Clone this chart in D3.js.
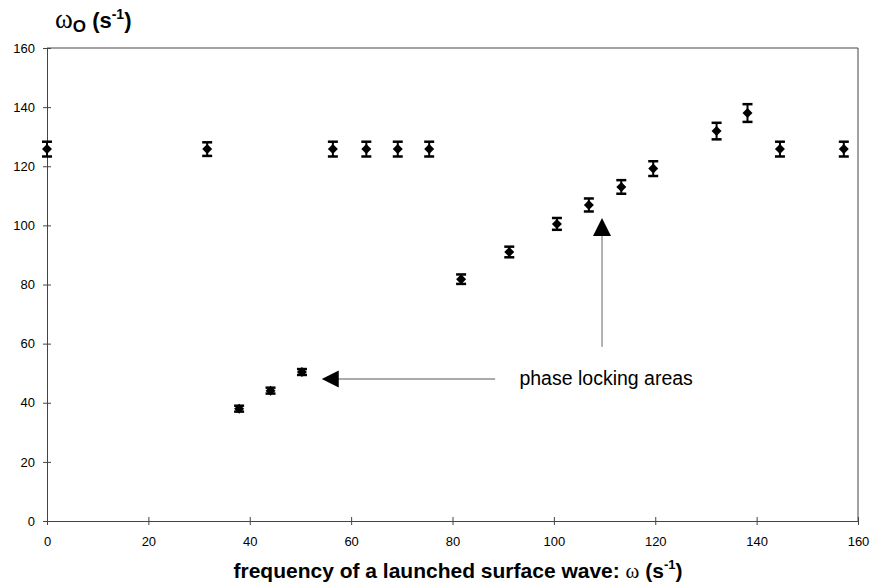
<!DOCTYPE html>
<html>
<head>
  <meta charset="utf-8">
  <script src="https://d3js.org/d3.v7.min.js"></script>
  <style type="text/css">
body{ margin:0; background:#fff; }
svg{ display:block; }
.tick text{ font-family:"Liberation Sans", Arial, sans-serif; font-size:13px; fill:#000; }
  </style>
</head>
<body>
<script type="text/javascript">
// launched frequency omega (s^-1)
var omega = [0, 31.6, 37.9, 44.1, 50.3, 56.4, 63.0, 69.2, 75.4, 81.7, 91.2, 100.6, 106.9, 113.3, 119.6, 132.1, 138.2, 144.6, 157.2];
// measured omega_0 (s^-1)
var omega0 = [125.8, 125.8, 38.0, 44.1, 50.4, 125.8, 125.8, 125.8, 125.8, 81.8, 91.0, 100.5, 106.9, 113.0, 119.2, 131.9, 138.0, 125.8, 125.8];
// error bar half heights
var errs = [2.5, 2.3, 1.0, 1.0, 1.0, 2.5, 2.5, 2.5, 2.5, 1.6, 1.8, 2.0, 2.2, 2.3, 2.5, 2.8, 3.0, 2.5, 2.5];
var xTicks = [0, 20, 40, 60, 80, 100, 120, 140, 160];
var yTicks = [0, 20, 40, 60, 80, 100, 120, 140, 160];

// annotation: arrows pointing at the two locking areas
var arrowH = {x1: 88.4, x2: 54.2, y: 48.0};
var arrowV = {x: 109.5, y1: 58.9, y2: 102.5};
var noteText = "phase locking areas";
var noteAt = {x: 93.2, y: 48.3};

var W = 873, H = 584;
var margin = {top: 48, right: 15, bottom: 63, left: 47};
var font = "'Liberation Sans', Arial, sans-serif";

var svg = d3.select("body").append("svg")
  .attr("width", W)
  .attr("height", H);

var x = d3.scaleLinear().domain([0, 160]).range([margin.left, W - margin.right]);
var y = d3.scaleLinear().domain([0, 160]).range([H - margin.bottom, margin.top]);

// frame (top and right)
svg.append("line")
  .attr("x1", x(0)).attr("x2", x(160))
  .attr("y1", y(160)).attr("y2", y(160))
  .attr("stroke", "#444").attr("stroke-width", 1);
svg.append("line")
  .attr("x1", x(160)).attr("x2", x(160))
  .attr("y1", y(160)).attr("y2", y(0))
  .attr("stroke", "#444").attr("stroke-width", 1);

var xAxis = d3.axisBottom(x).tickValues(xTicks).tickSizeInner(4).tickSizeOuter(0).tickPadding(12);
var yAxis = d3.axisLeft(y).tickValues(yTicks).tickSizeInner(4).tickSizeOuter(0).tickPadding(8);

var gx = svg.append("g")
  .attr("transform", "translate(0," + y(0) + ")")
  .call(xAxis);
var gy = svg.append("g")
  .attr("transform", "translate(" + x(0) + ",0)")
  .call(yAxis);

[gx, gy].forEach(function(g){
  g.select(".domain").attr("stroke", "#444");
  g.selectAll(".tick line").attr("stroke", "#444");
});
// ticks cross the axis lines
gx.selectAll(".tick line").attr("y1", -4).attr("y2", 4);
gy.selectAll(".tick line").attr("x1", -4).attr("x2", 4);
gx.selectAll(".tick text").attr("dy", "0.71em");

// error bars
var data = omega.map(function(d, i){ return {x: d, y: omega0[i], e: errs[i]}; });

var eb = svg.append("g").selectAll("g")
  .data(data)
  .enter().append("g");

eb.append("line")
  .attr("x1", function(d){ return x(d.x); })
  .attr("x2", function(d){ return x(d.x); })
  .attr("y1", function(d){ return y(d.y + d.e); })
  .attr("y2", function(d){ return y(d.y - d.e); })
  .attr("stroke", "#000").attr("stroke-width", 2);
eb.selectAll(".cap")
  .data(function(d){ return [d.y + d.e, d.y - d.e].map(function(v){ return {x: d.x, v: v}; }); })
  .enter().append("line")
  .attr("class", "cap")
  .attr("x1", function(d){ return x(d.x) - 5; })
  .attr("x2", function(d){ return x(d.x) + 5; })
  .attr("y1", function(d){ return y(d.v); })
  .attr("y2", function(d){ return y(d.v); })
  .attr("stroke", "#000").attr("stroke-width", 2.5);

// diamond markers
svg.append("g").selectAll("path")
  .data(data)
  .enter().append("path")
  .attr("d", d3.symbol(d3.symbolSquare, 50))
  .attr("transform", function(d){ return "translate(" + x(d.x) + "," + y(d.y) + ") rotate(45)"; })
  .attr("fill", "#000");

// horizontal arrow
svg.append("line")
  .attr("x1", x(arrowH.x1)).attr("x2", x(arrowH.x2) + 14)
  .attr("y1", y(arrowH.y)).attr("y2", y(arrowH.y))
  .attr("stroke", "#aaa").attr("stroke-width", 2);
svg.append("path")
  .attr("d", d3.line()([[x(arrowH.x2), y(arrowH.y)], [x(arrowH.x2) + 17, y(arrowH.y) - 8.5], [x(arrowH.x2) + 17, y(arrowH.y) + 8.5]]) + "Z")
  .attr("fill", "#000");

// vertical arrow
svg.append("line")
  .attr("x1", x(arrowV.x)).attr("x2", x(arrowV.x))
  .attr("y1", y(arrowV.y1)).attr("y2", y(arrowV.y2) + 14)
  .attr("stroke", "#666").attr("stroke-width", 1);
svg.append("path")
  .attr("d", d3.line()([[x(arrowV.x), y(arrowV.y2)], [x(arrowV.x) - 9, y(arrowV.y2) + 18], [x(arrowV.x) + 9, y(arrowV.y2) + 18]]) + "Z")
  .attr("fill", "#000");

svg.append("text")
  .attr("x", x(noteAt.x))
  .attr("y", y(noteAt.y))
  .attr("dy", "0.35em")
  .style("font-family", font)
  .style("font-size", "19.5px")
  .text(noteText);

// y axis title
var yt = svg.append("text")
  .attr("x", 55)
  .attr("y", 28)
  .style("font-family", font)
  .style("font-size", "22px")
  .style("font-weight", "bold");
yt.append("tspan").style("font-family", "'Liberation Serif', serif").style("font-weight", "normal").style("font-size", "27px").text("\u03c9");
yt.append("tspan").attr("dy", 4).style("font-size", "17px").text("O");
yt.append("tspan").attr("dy", -4).text(" (s");
yt.append("tspan").attr("dy", -9).style("font-size", "14px").text("-1");
yt.append("tspan").attr("dy", 9).text(")");

// x axis title
var xt = svg.append("text")
  .attr("x", 458)
  .attr("y", 578)
  .attr("text-anchor", "middle")
  .style("font-family", font)
  .style("font-size", "21px")
  .style("font-weight", "bold");
xt.append("tspan").text("frequency of a launched surface wave: ");
xt.append("tspan").style("font-family", "'Liberation Serif', serif").style("font-weight", "normal").text("\u03c9");
xt.append("tspan").text(" (s");
xt.append("tspan").attr("dy", -9).style("font-size", "13px").text("-1");
xt.append("tspan").attr("dy", 9).text(")");
</script>
</body>
</html>
